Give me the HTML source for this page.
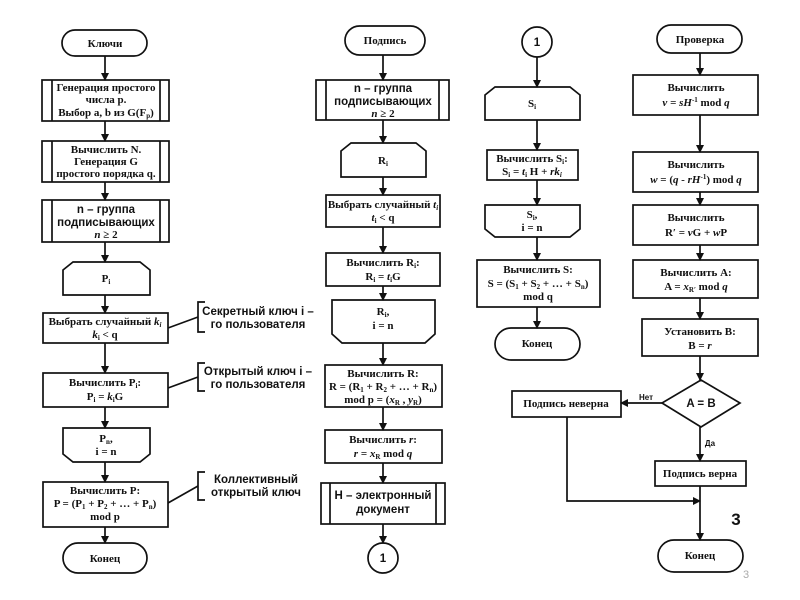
<!DOCTYPE html>
<html><head><meta charset="utf-8"><style>
html,body{margin:0;padding:0;background:#fff;}
svg{display:block}
text{font-family:"Liberation Serif",serif;font-weight:bold;font-size:11px;fill:#111;text-anchor:middle}
.s{font-family:"Liberation Sans",sans-serif;font-size:11.5px}
.i{font-style:italic}
</style></head><body>
<svg width="800" height="600" viewBox="0 0 800 600" xmlns="http://www.w3.org/2000/svg">
<defs><marker id="a" markerWidth="8" markerHeight="8" refX="7" refY="4" orient="auto" markerUnits="userSpaceOnUse"><path d="M0,0 L8,4 L0,8 z" fill="#111"/></marker></defs>
<g fill="none" stroke="#111" stroke-width="1.7">
<rect x="62" y="30" width="85" height="26" rx="13"/>
<rect x="42" y="80" width="127" height="41"/><line x1="52" y1="80" x2="52" y2="121"/><line x1="160" y1="80" x2="160" y2="121"/>
<rect x="42" y="141" width="127" height="41"/><line x1="52" y1="141" x2="52" y2="182"/><line x1="160" y1="141" x2="160" y2="182"/>
<rect x="42" y="200" width="127" height="42"/><line x1="52" y1="200" x2="52" y2="242"/><line x1="160" y1="200" x2="160" y2="242"/>
<path d="M73,262 L140,262 L150,270 L150,295 L63,295 L63,270 Z"/>
<rect x="43" y="313" width="125" height="30"/>
<rect x="43" y="373" width="125" height="34"/>
<path d="M63,428 L150,428 L150,454 L140,462 L73,462 L63,454 Z"/>
<rect x="43" y="482" width="125" height="45"/>
<rect x="63" y="543" width="84" height="30" rx="15"/>
<line x1="105" y1="56" x2="105" y2="80" marker-end="url(#a)"/>
<line x1="105" y1="121" x2="105" y2="141" marker-end="url(#a)"/>
<line x1="105" y1="182" x2="105" y2="200" marker-end="url(#a)"/>
<line x1="105" y1="242" x2="105" y2="262" marker-end="url(#a)"/>
<line x1="105" y1="295" x2="105" y2="313" marker-end="url(#a)"/>
<line x1="105" y1="343" x2="105" y2="373" marker-end="url(#a)"/>
<line x1="105" y1="407" x2="105" y2="428" marker-end="url(#a)"/>
<line x1="105" y1="462" x2="105" y2="482" marker-end="url(#a)"/>
<line x1="105" y1="527" x2="105" y2="543" marker-end="url(#a)"/>
<path d="M205,302 L198,302 L198,332 L205,332"/><line x1="168" y1="328" x2="198" y2="317"/>
<path d="M205,363 L198,363 L198,391 L205,391"/><line x1="168" y1="388" x2="198" y2="377"/>
<path d="M205,472 L198,472 L198,500 L205,500"/><line x1="168" y1="503" x2="198" y2="486"/>
<rect x="345" y="26" width="80" height="29" rx="14.5"/>
<rect x="316" y="80" width="133" height="40"/><line x1="326" y1="80" x2="326" y2="120"/><line x1="439" y1="80" x2="439" y2="120"/>
<path d="M351,143 L416,143 L426,151 L426,177 L341,177 L341,151 Z"/>
<rect x="326" y="195" width="114" height="32"/>
<rect x="326" y="253" width="114" height="33"/>
<path d="M332,300 L435,300 L435,334 L425,343 L342,343 L332,334 Z"/>
<rect x="325" y="365" width="117" height="42"/>
<rect x="325" y="430" width="117" height="33"/>
<rect x="321" y="483" width="124" height="41"/><line x1="330" y1="483" x2="330" y2="524"/><line x1="436" y1="483" x2="436" y2="524"/>
<circle cx="383" cy="558" r="15"/>
<line x1="383" y1="55" x2="383" y2="80" marker-end="url(#a)"/>
<line x1="383" y1="120" x2="383" y2="143" marker-end="url(#a)"/>
<line x1="383" y1="177" x2="383" y2="195" marker-end="url(#a)"/>
<line x1="383" y1="227" x2="383" y2="253" marker-end="url(#a)"/>
<line x1="383" y1="286" x2="383" y2="300" marker-end="url(#a)"/>
<line x1="383" y1="343" x2="383" y2="365" marker-end="url(#a)"/>
<line x1="383" y1="407" x2="383" y2="430" marker-end="url(#a)"/>
<line x1="383" y1="463" x2="383" y2="483" marker-end="url(#a)"/>
<line x1="383" y1="524" x2="383" y2="543" marker-end="url(#a)"/>
<circle cx="537" cy="42" r="15"/>
<path d="M495,87 L570,87 L580,95 L580,120 L485,120 L485,95 Z"/>
<rect x="487" y="150" width="91" height="30"/>
<path d="M485,205 L580,205 L580,229 L570,237 L495,237 L485,229 Z"/>
<rect x="477" y="260" width="123" height="47"/>
<rect x="495" y="328" width="85" height="32" rx="16"/>
<line x1="537" y1="57" x2="537" y2="87" marker-end="url(#a)"/>
<line x1="537" y1="120" x2="537" y2="150" marker-end="url(#a)"/>
<line x1="537" y1="180" x2="537" y2="205" marker-end="url(#a)"/>
<line x1="537" y1="237" x2="537" y2="260" marker-end="url(#a)"/>
<line x1="537" y1="307" x2="537" y2="328" marker-end="url(#a)"/>
<rect x="657" y="25" width="85" height="28" rx="14"/>
<rect x="633" y="75" width="125" height="40"/>
<rect x="633" y="152" width="125" height="40"/>
<rect x="633" y="205" width="125" height="40"/>
<rect x="633" y="260" width="125" height="38"/>
<rect x="642" y="319" width="116" height="37"/>
<path d="M701,380 L740,403 L701,427 L662,403 Z"/>
<rect x="512" y="391" width="109" height="26"/>
<rect x="655" y="461" width="91" height="25"/>
<rect x="658" y="540" width="85" height="32" rx="16"/>
<line x1="700" y1="53" x2="700" y2="75" marker-end="url(#a)"/>
<line x1="700" y1="115" x2="700" y2="152" marker-end="url(#a)"/>
<line x1="700" y1="192" x2="700" y2="205" marker-end="url(#a)"/>
<line x1="700" y1="245" x2="700" y2="260" marker-end="url(#a)"/>
<line x1="700" y1="298" x2="700" y2="319" marker-end="url(#a)"/>
<line x1="700" y1="356" x2="700" y2="380" marker-end="url(#a)"/>
<line x1="662" y1="403" x2="621" y2="403" marker-end="url(#a)"/>
<line x1="700" y1="427" x2="700" y2="461" marker-end="url(#a)"/>
<line x1="700" y1="486" x2="700" y2="540" marker-end="url(#a)"/>
<path d="M567,417 L567,501 L700,501" marker-end="url(#a)"/>
</g>
<text x="105" y="47">Ключи</text>
<text x="106" y="91">Генерация простого</text>
<text x="106" y="103">числа р.</text>
<text x="106" y="116">Выбор a, b из G(F<tspan font-size="7" dy="2">p</tspan><tspan dy="-2">)</tspan></text>
<text x="106" y="153">Вычислить N.</text>
<text x="106" y="165">Генерация G</text>
<text x="106" y="177">простого порядка q.</text>
<text class="s" x="106" y="213">n – группа</text>
<text class="s" x="106" y="226">подписывающих</text>
<text x="106" y="238"><tspan class="i">n</tspan> ≥ 2</text>
<text x="106" y="282">P<tspan font-size="7" dy="2">i</tspan></text>
<text x="105" y="325">Выбрать случайный <tspan class="i">k<tspan font-size="7" dy="2">i</tspan></tspan></text>
<text x="105" y="338"><tspan class="i">k</tspan><tspan font-size="7" dy="2">i</tspan><tspan dy="-2"> &lt; q</tspan></text>
<text x="105" y="386">Вычислить P<tspan font-size="7" dy="2">i</tspan><tspan dy="-2">:</tspan></text>
<text x="105" y="400">P<tspan font-size="7" dy="2">i</tspan><tspan dy="-2"> = </tspan><tspan class="i">k</tspan><tspan font-size="7" dy="2">i</tspan><tspan dy="-2">G</tspan></text>
<text x="106" y="442">P<tspan font-size="7" dy="2">n</tspan><tspan dy="-2">,</tspan></text>
<text x="106" y="455">i = n</text>
<text x="105" y="494">Вычислить P:</text>
<text x="105" y="507">P = (P<tspan font-size="7" dy="2">1</tspan><tspan dy="-2"> + P</tspan><tspan font-size="7" dy="2">2</tspan><tspan dy="-2"> + … + P</tspan><tspan font-size="7" dy="2">n</tspan><tspan dy="-2">)</tspan></text>
<text x="105" y="520">mod p</text>
<text x="105" y="562">Конец</text>
<text class="s" x="258" y="315">Секретный ключ i –</text>
<text class="s" x="258" y="328">го пользователя</text>
<text class="s" x="258" y="375">Открытый ключ i –</text>
<text class="s" x="258" y="388">го пользователя</text>
<text class="s" x="256" y="483">Коллективный</text>
<text class="s" x="256" y="496">открытый ключ</text>
<text x="385" y="44">Подпись</text>
<text class="s" x="383" y="92">n – группа</text>
<text class="s" x="383" y="105">подписывающих</text>
<text x="383" y="117"><tspan class="i">n</tspan> ≥ 2</text>
<text x="383" y="164">R<tspan font-size="7" dy="2">i</tspan></text>
<text x="383" y="208">Выбрать случайный <tspan class="i">t<tspan font-size="7" dy="2">i</tspan></tspan></text>
<text x="383" y="221"><tspan class="i">t</tspan><tspan font-size="7" dy="2">i</tspan><tspan dy="-2"> &lt; q</tspan></text>
<text x="383" y="266">Вычислить R<tspan font-size="7" dy="2">i</tspan><tspan dy="-2">:</tspan></text>
<text x="383" y="280">R<tspan font-size="7" dy="2">i</tspan><tspan dy="-2"> = </tspan><tspan class="i">t</tspan><tspan font-size="7" dy="2">i</tspan><tspan dy="-2">G</tspan></text>
<text x="383" y="315">R<tspan font-size="7" dy="2">i</tspan><tspan dy="-2">,</tspan></text>
<text x="383" y="329">i = n</text>
<text x="383" y="377">Вычислить R:</text>
<text x="383" y="390">R = (R<tspan font-size="7" dy="2">1</tspan><tspan dy="-2"> + R</tspan><tspan font-size="7" dy="2">2</tspan><tspan dy="-2"> + … + R</tspan><tspan font-size="7" dy="2">n</tspan><tspan dy="-2">)</tspan></text>
<text x="383" y="403">mod p = (<tspan class="i">x</tspan><tspan font-size="7" dy="2">R</tspan><tspan dy="-2"> , </tspan><tspan class="i">y</tspan><tspan font-size="7" dy="2">R</tspan><tspan dy="-2">)</tspan></text>
<text x="383" y="443">Вычислить <tspan class="i">r</tspan>:</text>
<text x="383" y="457"><tspan class="i">r</tspan> = <tspan class="i">x</tspan><tspan font-size="7" dy="2">R</tspan><tspan dy="-2"> mod </tspan><tspan class="i">q</tspan></text>
<text class="s" x="383" y="499">H – электронный</text>
<text class="s" x="383" y="513">документ</text>
<text class="s" x="383" y="562">1</text>
<text class="s" x="537" y="46">1</text>
<text x="532" y="107">S<tspan font-size="7" dy="2">i</tspan></text>
<text x="532" y="162">Вычислить S<tspan font-size="7" dy="2">i</tspan><tspan dy="-2">:</tspan></text>
<text x="532" y="175">S<tspan font-size="7" dy="2">i</tspan><tspan dy="-2"> = </tspan><tspan class="i">t</tspan><tspan font-size="7" dy="2">i</tspan><tspan dy="-2"> H + </tspan><tspan class="i">rk<tspan font-size="7" dy="2">i</tspan></tspan></text>
<text x="532" y="218">S<tspan font-size="7" dy="2">i</tspan><tspan dy="-2">,</tspan></text>
<text x="532" y="231">i = n</text>
<text x="538" y="273">Вычислить S:</text>
<text x="538" y="287">S = (S<tspan font-size="7" dy="2">1</tspan><tspan dy="-2"> + S</tspan><tspan font-size="7" dy="2">2</tspan><tspan dy="-2"> + … + S</tspan><tspan font-size="7" dy="2">n</tspan><tspan dy="-2">)</tspan></text>
<text x="538" y="300">mod q</text>
<text x="537" y="347">Конец</text>
<text x="566" y="407">Подпись неверна</text>
<text x="700" y="43">Проверка</text>
<text x="696" y="91">Вычислить</text>
<text x="696" y="106"><tspan class="i">v</tspan> = <tspan class="i">sH</tspan><tspan font-size="7" dy="-4">-1</tspan><tspan dy="4"> mod </tspan><tspan class="i">q</tspan></text>
<text x="696" y="168">Вычислить</text>
<text x="696" y="183"><tspan class="i">w</tspan> = (<tspan class="i">q - rH</tspan><tspan font-size="7" dy="-4">-1</tspan><tspan dy="4">) mod </tspan><tspan class="i">q</tspan></text>
<text x="696" y="221">Вычислить</text>
<text x="696" y="236">R′ = <tspan class="i">v</tspan>G + <tspan class="i">w</tspan>P</text>
<text x="696" y="276">Вычислить A:</text>
<text x="696" y="290">A = <tspan class="i">x</tspan><tspan font-size="7" dy="2">R′</tspan><tspan dy="-2"> mod </tspan><tspan class="i">q</tspan></text>
<text x="700" y="335">Установить B:</text>
<text x="700" y="349">B = <tspan class="i">r</tspan></text>
<text class="s" x="701" y="407">A = B</text>
<text class="s" x="646" y="400" style="font-size:8px">Нет</text>
<text class="s" x="710" y="446" style="font-size:8px">Да</text>
<text x="700" y="477">Подпись верна</text>
<text x="700" y="559">Конец</text>
<text class="s" x="736" y="525" style="font-size:17px">3</text>
<text class="s" x="746" y="578" style="font-size:11px;font-weight:normal;fill:#aaa">3</text>
</svg>
</body></html>
